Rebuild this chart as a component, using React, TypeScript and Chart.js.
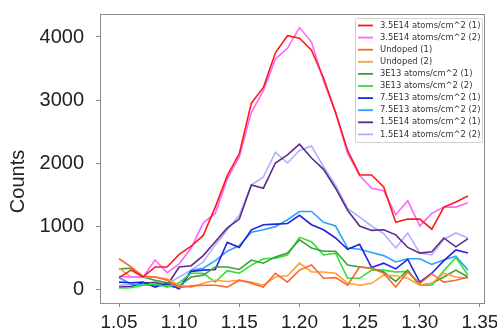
import React, { useEffect, useRef } from "react";
import { Chart, registerables } from "chart.js";

Chart.register(...registerables);

const xValues = [1.05, 1.06, 1.07, 1.08, 1.09, 1.10, 1.11, 1.12, 1.13, 1.14, 1.15, 1.16, 1.17, 1.18, 1.19, 1.20, 1.21, 1.22, 1.23, 1.24, 1.25, 1.26, 1.27, 1.28, 1.29, 1.30, 1.31, 1.32, 1.33, 1.34];

const red1 = [180, 300, 190, 350, 350, 550, 680, 850, 1300, 1800, 2150, 2950, 3200, 3750, 4020, 3980, 3790, 3350, 2800, 2200, 1810, 1810, 1620, 1060, 1110, 1110, 950, 1300, 1380, 1475];
const mag2 = [200, 190, 190, 460, 260, 400, 650, 1050, 1200, 1750, 2100, 2800, 3150, 3650, 3820, 4150, 3920, 3300, 2800, 2150, 1800, 1600, 1560, 1180, 1400, 1000, 1200, 1300, 1300, 1370];
const undoped1 = [480, 350, 200, 190, 140, 20, 50, 60, 60, 30, 140, 90, 30, 250, 110, 300, 380, 170, 180, 60, 350, 330, 250, 30, 270, 90, 240, 110, 140, 190];
const undoped2 = [330, 190, 190, 190, 160, 60, 30, 90, 140, 120, 140, 110, 60, 190, 210, 410, 270, 270, 250, 90, 60, 90, 220, 210, 170, 60, 90, 250, 190, 170];
const g3e13a = [320, 330, 190, 140, 100, 50, 190, 220, 350, 350, 310, 460, 410, 510, 570, 780, 650, 600, 600, 380, 350, 330, 270, 120, 300, 60, 90, 190, 300, 190];
const g3e13b = [15, 20, 60, 80, 30, 100, 250, 250, 110, 290, 250, 380, 480, 490, 540, 820, 750, 540, 570, 170, 170, 300, 300, 270, 280, 60, 60, 290, 500, 220];
const b75a = [110, 100, 110, 30, 90, 0, 280, 300, 310, 740, 660, 940, 1020, 1030, 1040, 1170, 1020, 940, 810, 630, 710, 340, 410, 320, 470, 110, 250, 450, 620, 570];
const b75b = [180, 80, 60, 60, 50, 20, 300, 330, 450, 600, 690, 900, 940, 990, 1100, 1230, 1230, 1060, 1000, 650, 630, 580, 530, 430, 480, 480, 390, 460, 520, 300];
const p15a = [30, 40, 100, 100, 60, 350, 370, 530, 750, 970, 1110, 1650, 1600, 2000, 2130, 2300, 2080, 1900, 1600, 1250, 1000, 930, 940, 860, 660, 570, 590, 810, 670, 800];
const p15b = [60, 70, 80, 120, 80, 190, 300, 430, 700, 940, 1170, 1650, 1780, 2170, 2000, 2200, 2270, 1940, 1650, 1280, 1140, 1000, 880, 650, 890, 570, 540, 790, 890, 810];

const seriesLabels = [
  "3.5E14 atoms/cm^2 (1)",
  "3.5E14 atoms/cm^2 (2)",
  "Undoped (1)",
  "Undoped (2)",
  "3E13 atoms/cm^2 (1)",
  "3E13 atoms/cm^2 (2)",
  "7.5E13 atoms/cm^2 (1)",
  "7.5E13 atoms/cm^2 (2)",
  "1.5E14 atoms/cm^2 (1)",
  "1.5E14 atoms/cm^2 (2)",
];
const seriesValues = [red1, mag2, undoped1, undoped2, g3e13a, g3e13b, b75a, b75b, p15a, p15b];
const seriesColors = ["#ff1a1a", "#ff66ff", "#ff6633", "#ffa033", "#3c9e3c", "#33dd33", "#2323e6", "#29a3ff", "#5c2a8a", "#b0b0ff"];

const xTicks = [1.05, 1.10, 1.15, 1.20, 1.25, 1.30, 1.35];
const yTicks = [0, 1000, 2000, 3000, 4000];
const yTitle = "Counts";

const frameColor = "#8c8c8c";

const framePlugin = {
  id: "frame",
  afterDraw(chart: any) {
    const { ctx, chartArea } = chart;
    ctx.save();
    ctx.strokeStyle = frameColor;
    ctx.lineWidth = 1;
    ctx.strokeRect(chartArea.left + 0.5, chartArea.top + 0.5, chartArea.right - chartArea.left - 1, chartArea.bottom - chartArea.top);
    ctx.translate(18, (chartArea.top + chartArea.bottom) / 2 + 23);
    ctx.rotate(-Math.PI / 2);
    ctx.fillStyle = "#222";
    ctx.font = '20px "Liberation Sans", Arial, sans-serif';
    ctx.textAlign = "center";
    ctx.textBaseline = "middle";
    ctx.fillText(yTitle, 0, 0);
    ctx.restore();
  },
};

const legendPlugin = {
  id: "boxLegend",
  afterDatasetsDraw(chart: any) {
    const { ctx, chartArea } = chart;
    const w = 127;
    const h = 124;
    const x0 = chartArea.right - 3 - w;
    const y0 = chartArea.top + 4;
    ctx.save();
    ctx.fillStyle = "rgba(255,255,255,0.9)";
    ctx.strokeStyle = "#d0d0d0";
    ctx.lineWidth = 1;
    ctx.beginPath();
    (ctx as any).roundRect(x0 + 0.5, y0 + 0.5, w, h, 2);
    ctx.fill();
    ctx.stroke();
    ctx.font = '8.4px "DejaVu Sans", sans-serif';
    ctx.textBaseline = "middle";
    ctx.fillStyle = "#333";
    chart.data.datasets.forEach((ds: any, i: number) => {
      const cy = y0 + 7.5 + i * 12.1;
      ctx.strokeStyle = ds.borderColor;
      ctx.lineWidth = 1.8;
      ctx.beginPath();
      ctx.moveTo(x0 + 3, cy);
      ctx.lineTo(x0 + 18, cy);
      ctx.stroke();
      ctx.fillText(ds.label, x0 + 25, cy);
    });
    ctx.restore();
  },
};

export default function App() {
  const ref = useRef<HTMLCanvasElement | null>(null);
  useEffect(() => {
    document.body.style.margin = "0";
    const canvas = ref.current!;
    const chart = new Chart(canvas, {
      type: "line",
      data: {
        datasets: seriesValues.map((vals, i) => ({
          label: seriesLabels[i],
          data: vals.map((v, j) => ({ x: xValues[j], y: v })),
          borderColor: seriesColors[i],
          backgroundColor: seriesColors[i],
          borderWidth: 1.6,
          pointRadius: 0,
          tension: 0,
          fill: false,
        })),
      },
      options: {
        animation: false,
        responsive: false,
        maintainAspectRatio: false,
        layout: { padding: { left: 0, top: 14, right: 12, bottom: 0 } },
        plugins: { legend: { display: false }, tooltip: { enabled: false } },
        scales: {
          x: {
            type: "linear",
            min: 1.0342,
            max: 1.3542,
            afterBuildTicks: (s: any) => {
              s.ticks = xTicks.map((v) => ({ value: v }));
            },
            afterFit: (s: any) => {
              s.height = 31;
              s.paddingLeft = 0;
              s.paddingRight = 0;
              s.paddingTop = 0;
              s.paddingBottom = 0;
            },
            grid: { display: true, drawOnChartArea: false, drawTicks: true, tickLength: 4, color: frameColor },
            border: { display: false },
            ticks: {
              color: "#222",
              font: { family: '"Liberation Sans", Arial, sans-serif', size: 19 },
              padding: 4,
              maxRotation: 0,
              autoSkip: false,
              callback: (v: any) => Number(v).toFixed(2),
            },
          },
          y: {
            type: "linear",
            min: -222,
            max: 4365,
            afterBuildTicks: (s: any) => {
              s.ticks = yTicks.map((v) => ({ value: v }));
            },
            afterFit: (s: any) => {
              s.width = 100;
              s.paddingLeft = 0;
              s.paddingRight = 0;
              s.paddingTop = 0;
              s.paddingBottom = 0;
            },
            grid: { display: true, drawOnChartArea: false, drawTicks: true, tickLength: 4, color: frameColor },
            border: { display: false },
            ticks: {
              color: "#222",
              font: { family: '"Liberation Sans", Arial, sans-serif', size: 20 },
              padding: 12,
              autoSkip: false,
              callback: (v: any) => String(v),
            },
          },
        },
      },
      plugins: [legendPlugin, framePlugin],
    });
    return () => chart.destroy();
  }, []);
  return <canvas ref={ref} width={497} height={334} style={{ display: "block", width: 497, height: 334 }} />;
}
